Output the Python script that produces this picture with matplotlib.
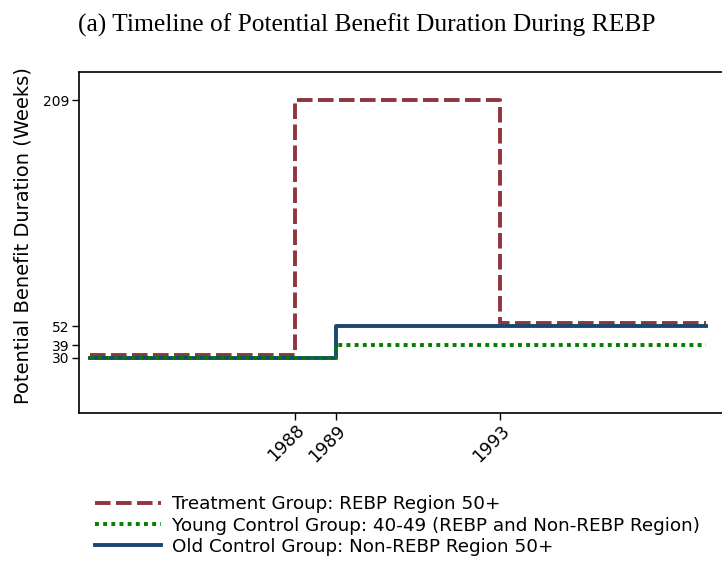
import matplotlib.pyplot as plt

plt.rcParams["font.family"] = ["DejaVu Sans"]

# step breakpoints (year, weeks)
treat_years = [1983, 1988, 1993, 1998]
treat_weeks = [32, 209, 54, 54]
young_years = [1983, 1989, 1998]
young_weeks = [30, 39, 39]
old_years = [1983, 1989, 1998]
old_weeks = [30, 52, 52]

x_ticks = [1988, 1989, 1993]
y_ticks = [30, 39, 52, 209]

labels = [
    "Treatment Group: REBP Region 50+",
    "Young Control Group: 40-49 (REBP and Non-REBP Region)",
    "Old Control Group: Non-REBP Region 50+",
]

fig = plt.figure(figsize=(7.22, 5.65), dpi=100)
ax = fig.add_axes([0.1094, 0.269, 0.8906, 0.6036])

l1, = ax.step(treat_years, treat_weeks, where="post", color="#90353b", lw=2.8,
              dashes=(4, 1.4), zorder=2)
l2, = ax.step(young_years, young_weeks, where="post", color="#008000", lw=2.8,
              dashes=(1, 1.1), zorder=4)
l3, = ax.step(old_years, old_weeks, where="post", color="#1a476f", lw=2.8, zorder=3)

ax.set_xlim(1982.73, 1998.4)
ax.set_ylim(-8.2, 228.5)
ax.set_xticks(x_ticks)
ax.set_xticklabels([str(t) for t in x_ticks], rotation=45, ha="right",
                   rotation_mode="anchor", fontsize=12.5)
ax.set_yticks(y_ticks)
ax.set_yticklabels([str(t) for t in y_ticks], fontsize=10)
ax.set_ylabel("Potential Benefit Duration (Weeks)", fontsize=14)
ax.yaxis.set_label_coords(-0.072, 0.52)
ax.spines["right"].set_visible(False)
for s in ["left", "top", "bottom"]:
    ax.spines[s].set_linewidth(1.2)
ax.tick_params(length=5, width=1, pad=2)
ax.tick_params(axis="x", pad=1)

fig.text(0.108, 0.955, "(a) Timeline of Potential Benefit Duration During REBP",
         family="Liberation Serif", fontsize=18.4, va="center")

fig.legend([l1, l2, l3], labels, loc="upper left", bbox_to_anchor=(0.122, 0.1365),
           frameon=False, fontsize=13.2, handlelength=3.55, handletextpad=0.6,
           labelspacing=0.18, borderaxespad=0)

fig.savefig("out.png", dpi=100)
